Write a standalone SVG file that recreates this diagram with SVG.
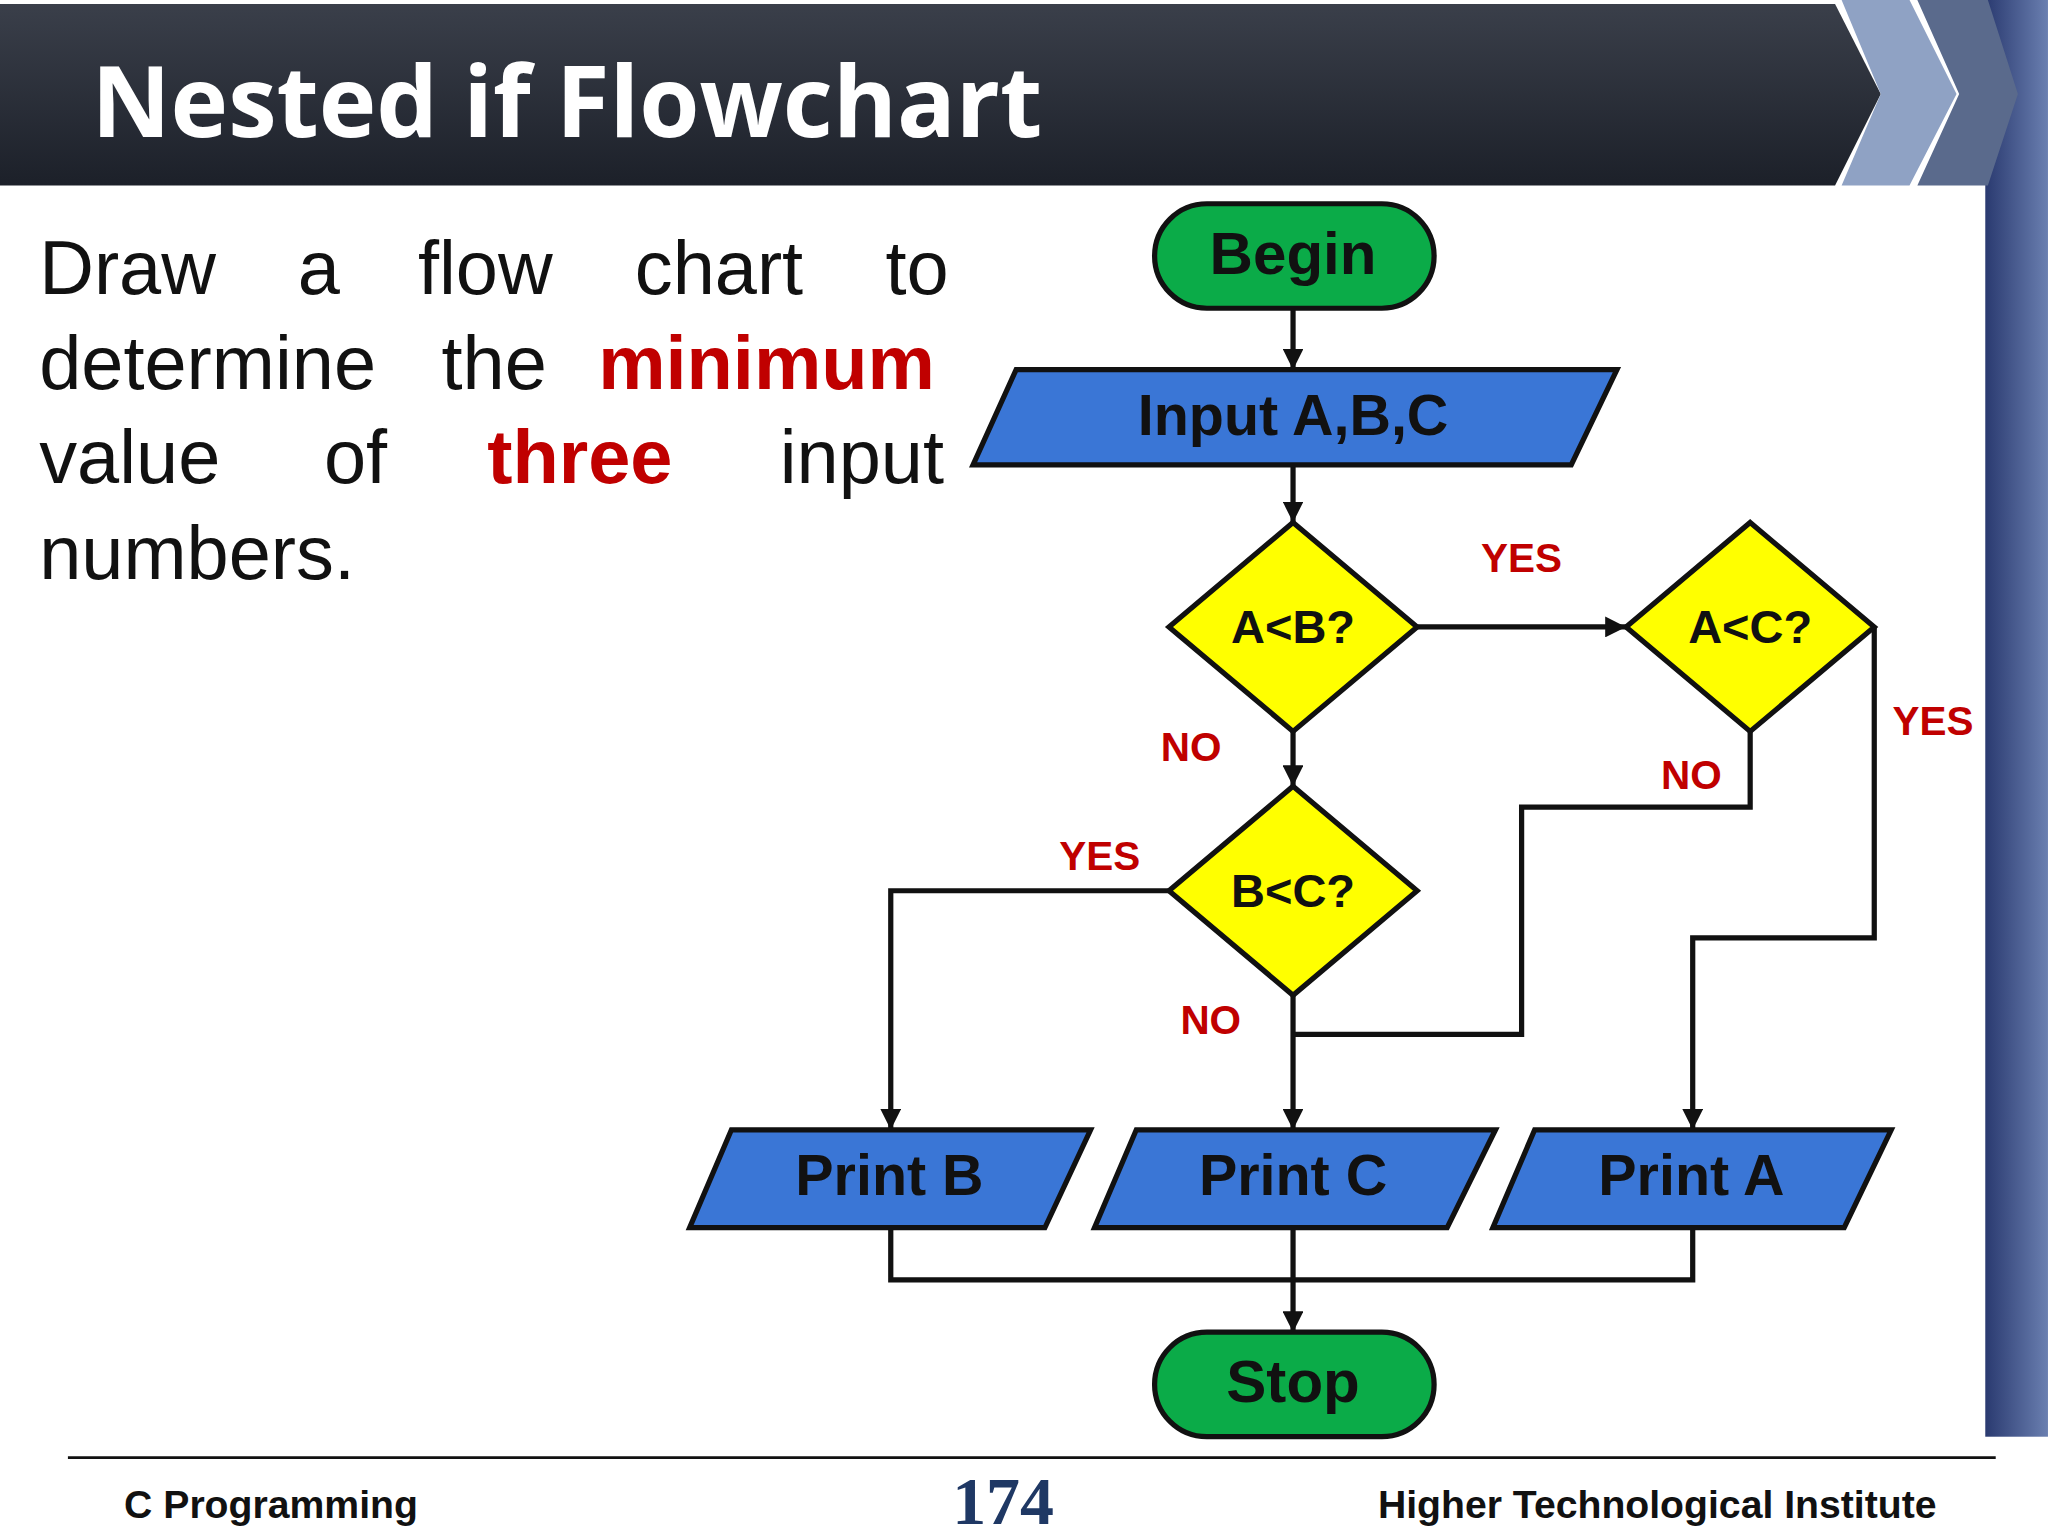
<svg xmlns="http://www.w3.org/2000/svg" width="2048" height="1536" viewBox="0 0 2048 1536">
<style>
.lbl{font-family:"Liberation Sans",Arial,sans-serif;font-weight:bold;font-size:31px;fill:#c00000;text-anchor:middle}
.nt{font-family:"Liberation Sans",Arial,sans-serif;font-weight:bold;fill:#111;text-anchor:middle;dominant-baseline:central}
.body{font-family:"Liberation Sans",Arial,sans-serif;font-size:58px;fill:#111}
.red{fill:#c00000;font-weight:bold}
.ln{stroke:#111;stroke-width:4;fill:none}
.term{fill:#0bab48;stroke:#111;stroke-width:4}
.io{fill:#3a76d6;stroke:#111;stroke-width:4}
.dec{fill:#ffff00;stroke:#111;stroke-width:4}
.ft{font-family:"Liberation Sans",Arial,sans-serif;font-weight:bold;font-size:30px;fill:#111}
</style>
<defs>
<marker id="ah" viewBox="0 0 10 10" refX="10" refY="5" markerWidth="4" markerHeight="4" orient="auto"><path d="M0,0 L10,5 L0,10 z" fill="#111"/></marker>
<linearGradient id="hd" x1="0" y1="0" x2="0" y2="1"><stop offset="0" stop-color="#3a3f4a"/><stop offset="1" stop-color="#1c2029"/></linearGradient>
<linearGradient id="sd" x1="0" y1="0" x2="1" y2="0"><stop offset="0" stop-color="#2a3a70"/><stop offset="1" stop-color="#6a7fb0"/></linearGradient>
</defs>
<rect width="2048" height="1536" fill="#fff"/>
<g transform="scale(1.3061)">
<rect x="1520" y="0" width="48" height="1100" fill="url(#sd)"/>
<polygon points="0,3 1405,3 1440,72 1405,142 0,142" fill="url(#hd)"/>
<polygon points="1410,0 1462,0 1498,72 1462,142 1410,142 1440,72" fill="#8fa2c4"/>
<polygon points="1468,0 1522,0 1545,72 1522,142 1468,142 1500,72" fill="#5a6a8c"/>
<text x="70" y="105" font-family="Open Sans,Liberation Sans,sans-serif" font-weight="bold" font-size="76" fill="#fff" textLength="728" lengthAdjust="spacingAndGlyphs">Nested if Flowchart</text>
<g class="body">
<text x="30" y="225">Draw</text><text x="228" y="225">a</text><text x="320" y="225">flow</text><text x="486" y="225">chart</text><text x="678" y="225">to</text>
<text x="30" y="298">determine</text><text x="338" y="298">the</text><text x="458" y="298" class="red">minimum</text>
<text x="30" y="370">value</text><text x="248" y="370">of</text><text x="373" y="370" class="red">three</text><text x="597" y="370">input</text>
<text x="30" y="443">numbers.</text>
</g>
<g id="connectors">
<path class="ln" marker-end="url(#ah)" d="M990,236 V283"/>
<path class="ln" marker-end="url(#ah)" d="M990,356 V400"/>
<path class="ln" marker-end="url(#ah)" d="M1085,480 H1245"/>
<path class="ln" marker-end="url(#ah)" d="M990,560 V602"/>
<path class="ln" marker-end="url(#ah)" d="M895,682 H682 V865"/>
<path class="ln" marker-end="url(#ah)" d="M990,762 V865"/>
<path class="ln" d="M1340,560 V618 H1165 V792 H990"/>
<path class="ln" marker-end="url(#ah)" d="M1435,480 V718 H1296 V865"/>
<path class="ln" d="M682,940 V980 H1296 V940"/>
<path class="ln" marker-end="url(#ah)" d="M990,940 V1020"/>
</g>
<g id="begin"><rect class="term" x="884" y="156" width="214" height="80" rx="40"/><text class="nt" x="990" y="194" font-size="46">Begin</text></g>
<g id="input"><polygon class="io" points="778,283 1238,283 1203,356 745,356"/><text class="nt" x="990" y="318" font-size="44">Input A,B,C</text></g>
<g id="aLtB"><polygon class="dec" points="990,400 1085,480 990,560 895,480"/><text class="nt" x="990" y="480" font-size="36">A&lt;B?</text></g>
<g id="aLtC"><polygon class="dec" points="1340,400 1435,480 1340,560 1245,480"/><text class="nt" x="1340" y="480" font-size="36">A&lt;C?</text></g>
<g id="bLtC"><polygon class="dec" points="990,602 1085,682 990,762 895,682"/><text class="nt" x="990" y="682" font-size="36">B&lt;C?</text></g>
<g id="printB"><polygon class="io" points="560,865 835,865 800,940 528,940"/><text class="nt" x="681" y="900" font-size="44">Print B</text></g>
<g id="printC"><polygon class="io" points="870,865 1145,865 1108,940 838,940"/><text class="nt" x="990" y="900" font-size="44">Print C</text></g>
<g id="printA"><polygon class="io" points="1175,865 1448,865 1412,940 1143,940"/><text class="nt" x="1295" y="900" font-size="44">Print A</text></g>
<g id="stop"><rect class="term" x="884" y="1020" width="214" height="80" rx="40"/><text class="nt" x="990" y="1058" font-size="46">Stop</text></g>
<text class="lbl" x="1165" y="438">YES</text>
<text class="lbl" x="1480" y="563">YES</text>
<text class="lbl" x="912" y="583">NO</text>
<text class="lbl" x="1295" y="604">NO</text>
<text class="lbl" x="842" y="666">YES</text>
<text class="lbl" x="927" y="792">NO</text>
<line x1="52" y1="1116" x2="1528" y2="1116" stroke="#111" stroke-width="2"/>
<text class="ft" x="95" y="1162">C Programming</text>
<text x="768" y="1167" text-anchor="middle" font-family="Liberation Serif,serif" font-weight="bold" font-size="52" fill="#1f3864">174</text>
<text class="ft" x="1055" y="1162">Higher Technological Institute</text>
</g>
</svg>
